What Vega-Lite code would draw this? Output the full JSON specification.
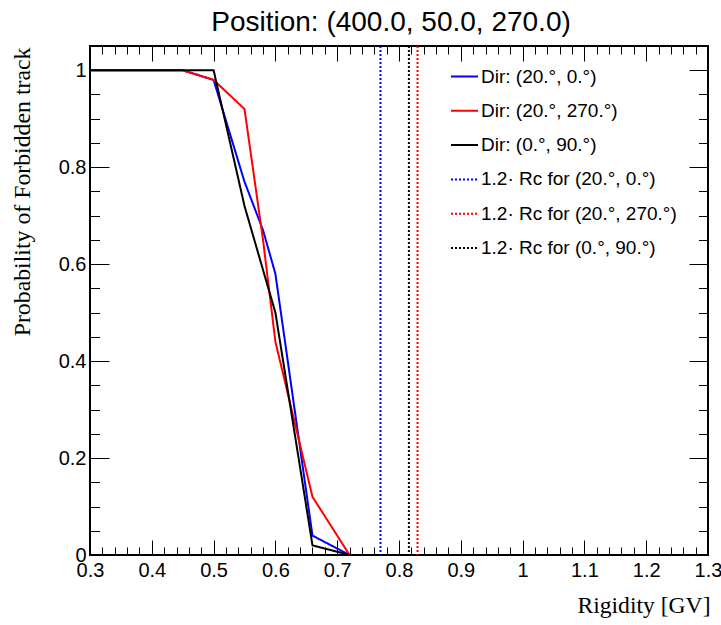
{
  "$schema": "https://vega.github.io/schema/vega-lite/v6.json",
  "width": 618,
  "height": 509,
  "autosize": "none",
  "padding": {"left": 90, "top": 46, "right": 13, "bottom": 70},
  "background": "white",
  "title": {"text": "Position: (400.0, 50.0, 270.0)", "font": "Liberation Sans", "fontSize": 28, "fontWeight": "normal", "color": "black", "anchor": "middle", "baseline": "alphabetic", "offset": 15, "dx": -8, "dy": 29},
  "config": {
    "view": {"stroke": "black", "strokeWidth": 2},
    "axis": {"grid": false, "domain": false, "tickColor": "black", "tickWidth": 1, "labelColor": "black", "labelFont": "Liberation Sans", "labelFontSize": 20},
    "legend": {"orient": "none", "legendX": 360, "legendY": 16, "padding": 0, "symbolType": "stroke", "symbolSize": 729, "symbolStrokeWidth": 2, "labelFont": "Liberation Sans", "labelFontSize": 19, "labelColor": "black", "labelOffset": 2, "rowPadding": 9.3, "labelLimit": 0}
  },
  "datasets": {
    "curves": [
      {"series": "Dir: (20.°, 0.°)", "rigidity": 0.3, "probability": 1},
      {"series": "Dir: (20.°, 0.°)", "rigidity": 0.45, "probability": 1},
      {"series": "Dir: (20.°, 0.°)", "rigidity": 0.5, "probability": 0.98},
      {"series": "Dir: (20.°, 0.°)", "rigidity": 0.55, "probability": 0.77},
      {"series": "Dir: (20.°, 0.°)", "rigidity": 0.58, "probability": 0.67},
      {"series": "Dir: (20.°, 0.°)", "rigidity": 0.6, "probability": 0.58},
      {"series": "Dir: (20.°, 0.°)", "rigidity": 0.66, "probability": 0.04},
      {"series": "Dir: (20.°, 0.°)", "rigidity": 0.72, "probability": 0},
      {"series": "Dir: (20.°, 270.°)", "rigidity": 0.3, "probability": 1},
      {"series": "Dir: (20.°, 270.°)", "rigidity": 0.45, "probability": 1},
      {"series": "Dir: (20.°, 270.°)", "rigidity": 0.5, "probability": 0.98},
      {"series": "Dir: (20.°, 270.°)", "rigidity": 0.55, "probability": 0.92},
      {"series": "Dir: (20.°, 270.°)", "rigidity": 0.58, "probability": 0.65},
      {"series": "Dir: (20.°, 270.°)", "rigidity": 0.6, "probability": 0.44},
      {"series": "Dir: (20.°, 270.°)", "rigidity": 0.66, "probability": 0.12},
      {"series": "Dir: (20.°, 270.°)", "rigidity": 0.72, "probability": 0},
      {"series": "Dir: (0.°, 90.°)", "rigidity": 0.3, "probability": 1},
      {"series": "Dir: (0.°, 90.°)", "rigidity": 0.5, "probability": 1},
      {"series": "Dir: (0.°, 90.°)", "rigidity": 0.55, "probability": 0.72},
      {"series": "Dir: (0.°, 90.°)", "rigidity": 0.6, "probability": 0.5},
      {"series": "Dir: (0.°, 90.°)", "rigidity": 0.66, "probability": 0.02},
      {"series": "Dir: (0.°, 90.°)", "rigidity": 0.72, "probability": 0}
    ],
    "cutoffs": [
      {"series": "1.2· Rc for (20.°, 0.°)", "rigidity": 0.77},
      {"series": "1.2· Rc for (20.°, 270.°)", "rigidity": 0.83},
      {"series": "1.2· Rc for (0.°, 90.°)", "rigidity": 0.816}
    ]
  },
  "layer": [
    {
      "data": {"name": "curves"},
      "mark": {"type": "line", "strokeWidth": 2},
      "encoding": {
        "x": {"field": "rigidity", "type": "quantitative", "scale": {"domain": [0.3, 1.3], "nice": false, "zero": false},
          "axis": {"orient": "bottom", "values": [0.3, 0.4, 0.5, 0.6, 0.7, 0.8, 0.9, 1.0, 1.1, 1.2, 1.3], "format": ".1~f", "tickSize": -15, "labelPadding": 20, "labelFlush": false,
            "title": "Rigidity [GV]", "titleFont": "Liberation Serif", "titleFontSize": 23.6, "titleFontWeight": "normal", "titleColor": "black", "titleAnchor": "end", "titleAlign": "right", "titleBaseline": "alphabetic", "titleX": 620, "titleY": 57}},
        "y": {"field": "probability", "type": "quantitative", "scale": {"domain": [0, 1.05], "nice": false, "zero": false},
          "axis": {"orient": "left", "values": [0, 0.2, 0.4, 0.6, 0.8, 1.0], "format": ".1~f", "tickSize": -19, "labelPadding": 23, "labelFlush": false,
            "title": "Probability of Forbidden track", "titleFont": "Liberation Serif", "titleFontSize": 23.8, "titleFontWeight": "normal", "titleColor": "black", "titleAnchor": "end", "titleAlign": "right", "titleBaseline": "alphabetic", "titleAngle": -90, "titleX": -61, "titleY": 1}},
        "color": {"field": "series", "type": "nominal", "scale": {"domain": ["Dir: (20.°, 0.°)", "Dir: (20.°, 270.°)", "Dir: (0.°, 90.°)", "1.2· Rc for (20.°, 0.°)", "1.2· Rc for (20.°, 270.°)", "1.2· Rc for (0.°, 90.°)"], "range": ["#0000ff", "#ff0000", "#000000", "#0000ff", "#ff0000", "#000000"]}, "legend": {"title": null}},
        "strokeDash": {"field": "series", "type": "nominal", "scale": {"domain": ["Dir: (20.°, 0.°)", "Dir: (20.°, 270.°)", "Dir: (0.°, 90.°)", "1.2· Rc for (20.°, 0.°)", "1.2· Rc for (20.°, 270.°)", "1.2· Rc for (0.°, 90.°)"], "range": [[1, 0], [1, 0], [1, 0], [2, 2], [2, 2], [2, 2]]}, "legend": {"title": null}}
      }
    },
    {
      "data": {"name": "cutoffs"},
      "mark": {"type": "rule", "strokeWidth": 2},
      "encoding": {
        "x": {"field": "rigidity", "type": "quantitative", "scale": {"domain": [0.3, 1.3], "nice": false, "zero": false},
          "axis": {"orient": "top", "values": [0.3, 0.4, 0.5, 0.6, 0.7, 0.8, 0.9, 1.0, 1.1, 1.2, 1.3], "tickSize": -15, "labels": false, "title": null}},
        "color": {"field": "series", "type": "nominal", "legend": {"title": null}},
        "strokeDash": {"field": "series", "type": "nominal", "legend": {"title": null}}
      }
    },
    {
      "data": {"name": "curves"},
      "mark": {"type": "point", "opacity": 0},
      "encoding": {
        "x": {"field": "rigidity", "type": "quantitative", "scale": {"domain": [0.3, 1.3], "nice": false, "zero": false},
          "axis": {"orient": "bottom", "values": [0.32, 0.34, 0.36, 0.38, 0.42, 0.44, 0.46, 0.48, 0.52, 0.54, 0.56, 0.58, 0.62, 0.64, 0.66, 0.68, 0.72, 0.74, 0.76, 0.78, 0.82, 0.84, 0.86, 0.88, 0.92, 0.94, 0.96, 0.98, 1.02, 1.04, 1.06, 1.08, 1.12, 1.14, 1.16, 1.18, 1.22, 1.24, 1.26, 1.28], "tickSize": -8, "labels": false, "title": null}},
        "y": {"field": "probability", "type": "quantitative", "scale": {"domain": [0, 1.05], "nice": false, "zero": false},
          "axis": {"orient": "left", "values": [0.05, 0.1, 0.15, 0.25, 0.3, 0.35, 0.45, 0.5, 0.55, 0.65, 0.7, 0.75, 0.85, 0.9, 0.95], "tickSize": -9.5, "labels": false, "title": null}}
      }
    },
    {
      "data": {"name": "curves"},
      "mark": {"type": "point", "opacity": 0},
      "encoding": {
        "x": {"field": "rigidity", "type": "quantitative", "scale": {"domain": [0.3, 1.3], "nice": false, "zero": false},
          "axis": {"orient": "top", "values": [0.32, 0.34, 0.36, 0.38, 0.42, 0.44, 0.46, 0.48, 0.52, 0.54, 0.56, 0.58, 0.62, 0.64, 0.66, 0.68, 0.72, 0.74, 0.76, 0.78, 0.82, 0.84, 0.86, 0.88, 0.92, 0.94, 0.96, 0.98, 1.02, 1.04, 1.06, 1.08, 1.12, 1.14, 1.16, 1.18, 1.22, 1.24, 1.26, 1.28], "tickSize": -8, "labels": false, "title": null}},
        "y": {"field": "probability", "type": "quantitative", "scale": {"domain": [0, 1.05], "nice": false, "zero": false},
          "axis": {"orient": "right", "values": [0, 0.2, 0.4, 0.6, 0.8, 1.0], "tickSize": -19, "labels": false, "title": null}}
      }
    },
    {
      "data": {"name": "curves"},
      "mark": {"type": "point", "opacity": 0},
      "encoding": {
        "x": {"field": "rigidity", "type": "quantitative", "scale": {"domain": [0.3, 1.3], "nice": false, "zero": false}, "axis": null},
        "y": {"field": "probability", "type": "quantitative", "scale": {"domain": [0, 1.05], "nice": false, "zero": false},
          "axis": {"orient": "right", "values": [0.05, 0.1, 0.15, 0.25, 0.3, 0.35, 0.45, 0.5, 0.55, 0.65, 0.7, 0.75, 0.85, 0.9, 0.95], "tickSize": -9.5, "labels": false, "title": null}}
      }
    }
  ],
  "resolve": {"axis": {"x": "independent", "y": "independent"}}
}
